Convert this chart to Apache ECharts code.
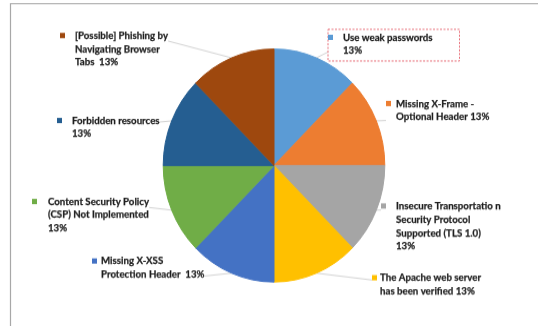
<!DOCTYPE html>
<html><head><meta charset="utf-8">
<script src="https://cdn.jsdelivr.net/npm/echarts@6/dist/echarts.min.js"></script>
<style>
html,body{margin:0;padding:0;background:#fff;overflow:hidden}
#wrap{width:538px;height:326px;overflow:hidden;position:relative}
#c{width:538px;height:310px;transform:scaleY(1.0516);transform-origin:0 0}
</style>
</head><body><div id="wrap"><div id="c"></div></div>
<script>
// ---- data ----
const categories = [
  'Use weak passwords',
  'Missing X-Frame - Optional Header',
  'Insecure Transportation Security Protocol Supported (TLS 1.0)',
  'The Apache web server has been verified',
  'Missing X-XSS Protection Header',
  'Content Security Policy (CSP) Not Implemented',
  'Forbidden resources',
  '[Possible] Phishing by Navigating Browser Tabs'
];
const values = [1, 1, 1, 1, 1, 1, 1, 1];
// label text as wrapped in the picture; %P is replaced by the computed percentage
const labelTexts = [
  ['Use weak passwords', '%P%'],
  ['Missing X-Frame -', 'Optional Header %P%'],
  ['Insecure Transportatio n', 'Security Protocol', 'Supported (TLS 1.0)', '%P%'],
  ['The Apache web server', 'has been verified %P%'],
  ['Missing X-XSS', 'Protection Header  %P%'],
  ['Content Security Policy', '(CSP) Not Implemented', '%P%'],
  ['Forbidden resources', '%P%'],
  ['[Possible] Phishing by', 'Navigating Browser', 'Tabs  %P%']
];
const colors = ['#5B9BD5','#ED7D31','#A5A5A5','#FFC000','#4472C4','#70AD47','#255E91','#9E480E'];

// ---- layout (picture coordinates): square left x, text left x, first line centre y,
//      leader-line end y, side of the label the leader attaches to ----
const SY = 1.0516;
const labelPos = [
  [328, 343, 37.3, 52, 'left'],
  [386, 396, 103.5, 120.5, 'left'],
  [381, 396, 206, 210, 'left'],
  [372, 380, 277.7, 280, 'left'],
  [92, 101, 261, 276, 'right'],
  [32, 48, 201.5, 207.5, 'right'],
  [57, 72, 120.5, 122, 'right'],
  [60, 75, 35.5, 41, 'right']
];
const LH = 13.4 / SY;
const FONT = "Lato, 'Liberation Sans', sans-serif";
const boxPad = [1.2, 27, 3.4, 0];

const data = categories.map((name, i) => {
  const p = labelPos[i];
  const rich = {
    sq: {width: 5, height: 5, backgroundColor: colors[i], lineHeight: LH},
    g: {width: p[1] - p[0] - 5, lineHeight: LH},
    sp: {width: p[1] - p[0], lineHeight: LH},
    t: {fontFamily: FONT, fontWeight: 'bold', fontSize: 9.7, color: '#1e1e1e', lineHeight: LH,
        textBorderColor: '#1e1e1e', textBorderWidth: 0.25}
  };
  const item = {name, value: values[i],
    itemStyle: {color: colors[i], borderColor: colors[i], borderWidth: 1, borderJoin: 'round'},
    label: {rich}};
  if (i === 0) {
    item.label.borderColor = '#e8707a';
    item.label.borderWidth = 1;
    item.label.borderType = [2, 1.5];
    item.label.padding = boxPad;
  }
  return item;
});

const chart = echarts.init(document.getElementById('c'), null, {renderer: 'canvas'});

function edgePoint(params) {
  // point on the slice's outer arc at its mid angle, taken from the library's own pie layout
  try {
    const lay = chart.getModel().getSeriesByIndex(0).getData().getItemLayout(params.dataIndex);
    const mid = (lay.startAngle + lay.endAngle) / 2;
    return [lay.cx + lay.r * Math.cos(mid), lay.cy + lay.r * Math.sin(mid)];
  } catch (e) {
    return params.labelLinePoints ? params.labelLinePoints[0].slice() : null;
  }
}

chart.setOption({
  animation: false,
  backgroundColor: '#fff',
  graphic: [{
    type: 'polyline', silent: true,
    shape: {points: [[10.5, 320], [10.5, 3.5], [538, 3.5]]},
    style: {fill: 'none', stroke: '#a8a8a8', lineWidth: 1.2}
  }],
  series: [{
    type: 'pie',
    center: [274, 165.5 / SY],
    radius: 110.8,
    startAngle: 90,
    clockwise: true,
    avoidLabelOverlap: false,
    emphasis: {disabled: true},
    label: {
      show: true,
      position: 'outside',
      formatter: function (params) {
        const pct = Math.round(params.percent);
        const lines = labelTexts[params.dataIndex].map(s => s.replace('%P', String(pct)));
        return lines.map((s, k) => (k === 0 ? '{sq|}{g|}' : '{sp|}') + '{t|' + s + '}').join('\n');
      }
    },
    labelLine: {show: true, length: 8, length2: 8, smooth: false,
      lineStyle: {color: '#d4d4d4', width: 1}},
    labelLayout: function (params) {
      const p = labelPos[params.dataIndex];
      let y = p[2] / SY - LH / 2;
      if (params.dataIndex === 0) y -= boxPad[0];
      const w = params.labelRect.width;
      const edge = edgePoint(params);
      const end = [p[4] === 'left' ? p[0] : p[0] + w, p[3] / SY];
      const out = {x: p[0], y: y, align: 'left', verticalAlign: 'top'};
      if (edge) out.labelLinePoints = [edge, end];
      return out;
    },
    data: data
  }]
});
</script>
</body></html>
